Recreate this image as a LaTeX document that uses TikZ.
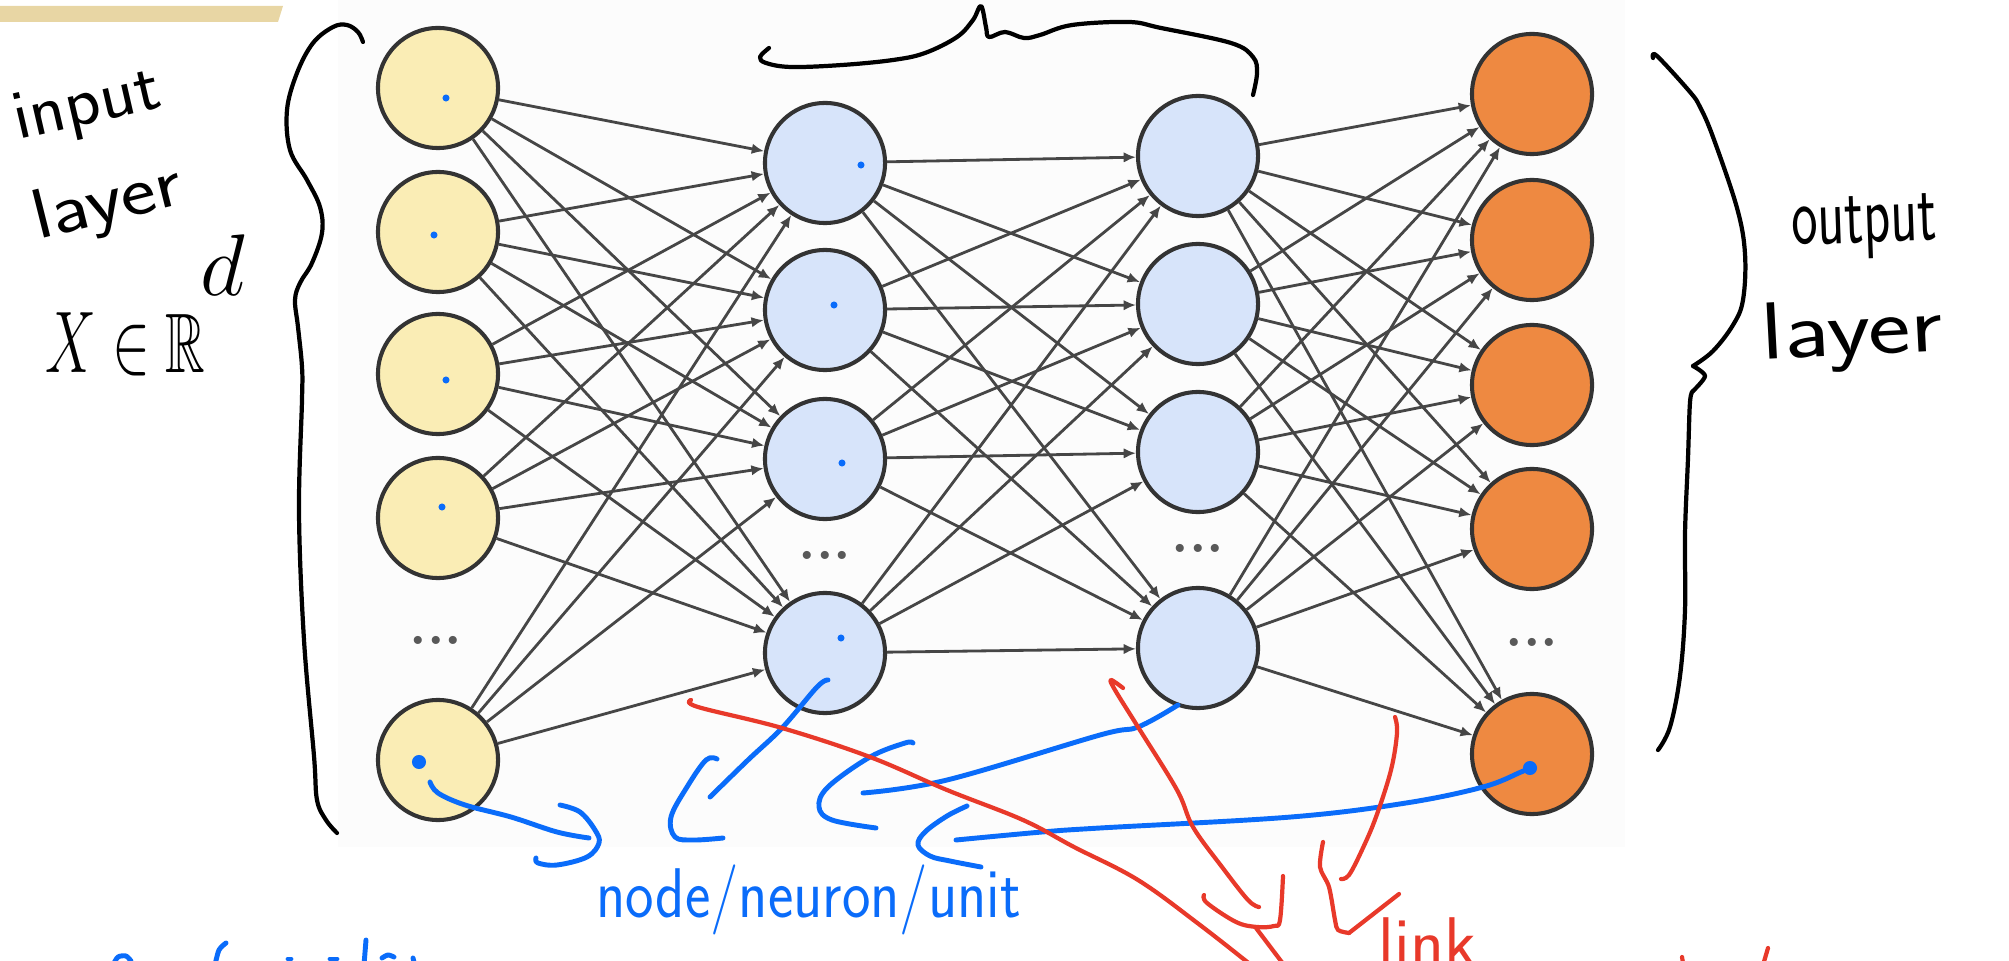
\documentclass[tikz,border=0pt]{standalone}
\usepackage{fontspec}
\usepackage{amssymb}
\usepackage{graphicx}
\usetikzlibrary{arrows.meta}

\definecolor{inyel}{HTML}{FAEDB5}
\definecolor{hidblue}{HTML}{D7E4FA}
\definecolor{outorange}{HTML}{EE8941}
\definecolor{penblue}{HTML}{0A6CFA}
\definecolor{penred}{HTML}{E8392A}
\definecolor{tanbar}{HTML}{E8D6A4}
\definecolor{edgegray}{HTML}{464646}
\definecolor{sheet}{HTML}{FCFCFC}

\begin{document}
\begin{tikzpicture}[x=0.01cm,y=-0.01cm,
  neuron/.style={circle, draw=black!80, line width=1.15pt, minimum size=1.2cm, inner sep=0pt},
  inneuron/.style={neuron, fill=inyel},
  hidneuron/.style={neuron, fill=hidblue},
  outneuron/.style={neuron, fill=outorange},
  edge/.style={draw=edgegray, line width=0.8pt, -{Latex[length=3.5pt,width=3pt]}},
  dotsnode/.style={text=black!65, font=\fontsize{16}{16}\selectfont\bfseries, inner sep=0pt},
  pen/.style={line width=1.2pt, line cap=round, line join=round},
  blackpen/.style={pen, draw=black},
  bluepen/.style={pen, draw=penblue, line width=1.4pt},
  redpen/.style={pen, draw=penred},
  penmark/.style={fill=penblue, circle, inner sep=0pt, minimum size=2pt},
  hand/.style={inner sep=0pt, font=\sffamily\fontsize{20}{22}\selectfont},
]
\useasboundingbox (0,0) rectangle (2009,961);
\clip (0,0) rectangle (2009,961);

% pasted sheet behind the network and the title bar
\fill[sheet] (338,0) rectangle (1625,847);
\fill[tanbar] (0,6) -- (283,6) -- (278,22) -- (0,22) -- cycle;

% ---- network nodes ----
\foreach \y [count=\k] in {88,232,374,518,760}
  \node[inneuron] (in\k) at (438,\y) {};
\foreach \y [count=\k] in {163,310,459,653}
  \node[hidneuron] (ha\k) at (825,\y) {};
\foreach \y [count=\k] in {156,304,452,648}
  \node[hidneuron] (hb\k) at (1198,\y) {};
\foreach \y [count=\k] in {94,240,385,529,754}
  \node[outneuron] (out\k) at (1532,\y) {};

\node[dotsnode] (dotsin)  at (436,640) {...};
\node[dotsnode] (dotsha)  at (825,555) {...};
\node[dotsnode] (dotshb)  at (1198,548) {...};
\node[dotsnode] (dotsout) at (1532,642) {...};

% ---- fully connected links ----
\foreach \i in {1,...,5}
  \foreach \j in {1,...,4}
    \draw[edge] (in\i) -- (ha\j);
\foreach \i in {1,...,4}
  \foreach \j in {1,...,4}
    \draw[edge] (ha\i) -- (hb\j);
\foreach \i in {1,...,4}
  \foreach \j in {1,...,5}
    \draw[edge] (hb\i) -- (out\j);

% ---- black pen: braces and layer names ----
\draw[blackpen] plot[smooth, tension=0.6] coordinates {(363,42) (358,32) (347,25) (333,27) (313,43) (297,73) (287,110) (290,150) (307,180) (320,207) (322,233) (312,263) (300,283) (295,300) (298,327) (302,367) (302,400) (299,512) (304,640) (314,756) (317,800) (326,820) (337,833)};

\draw[blackpen] plot[smooth, tension=0.6] coordinates {(769,48) (760,57) (766,63) (791,67) (842,65) (893,60) (925,53) (957,37) (973,20) (981,6) (986,27) (989,37) (1005,32) (1024,38) (1040,35) (1072,25) (1129,22) (1161,28) (1231,43) (1253,57) (1257,73) (1253,95)};

\draw[blackpen] plot[smooth, tension=0.6] coordinates {(1653,58) (1657,56) (1690,92) (1700,107) (1713,137) (1737,208) (1745,254) (1743,300) (1733,325) (1713,351) (1693,366)};
\draw[blackpen] plot[smooth, tension=0.5] coordinates {(1693,366) (1705,376) (1693,391)};
\draw[blackpen] plot[smooth, tension=0.6] coordinates {(1693,391) (1690,402) (1688,458) (1685,534) (1685,610) (1680,676) (1670,727) (1658,750)};

\node[hand, anchor=base west, rotate=13] (tinput) at (18,140) {\scalebox{1.05}[1]{input}};
\node[hand, anchor=base west, rotate=14] (tlayerin) at (38,240) {\scalebox{1.2}[1]{layer}};
\node[inner sep=0pt, anchor=base west, font=\fontsize{24}{26}\selectfont] (txr) at (45,373) {\scalebox{0.65}[1]{$X \in \mathbb{R}$}};
\node[inner sep=0pt, anchor=base west, font=\fontsize{40}{42}\selectfont] (texp) at (200,296) {$d$};

\node[hand, anchor=base west, rotate=2, font=\sffamily\fontsize{24}{26}\selectfont] (toutput) at (1792,245) {\scalebox{0.66}[1]{output}};
\node[hand, anchor=base west, rotate=3, font=\sffamily\fontsize{23}{25}\selectfont] (tlayerout) at (1762,360) {\scalebox{1.25}[1]{layer}};

% ---- blue pen: pointers to the units ----
\foreach \p in {(446,98),(434,235),(446,380),(442,507),(861,165),(834,305),(842,463),(841,638)}
  \node[penmark] at \p {};
\node[penmark, minimum size=4pt] (startin) at (419,762) {};
\node[penmark, minimum size=4pt] (startout) at (1530,768) {};

\draw[bluepen] plot[smooth, tension=0.6] coordinates {(430,782) (438,793) (465,805) (511,817) (557,832) (589,838)};
\draw[bluepen] plot[smooth, tension=0.6] coordinates {(560,805) (580,812) (595,830) (599,843) (587,857) (557,865) (538,863) (536,858)};
\draw[bluepen] plot[smooth, tension=0.6] coordinates {(828,680) (817,687) (782,728) (748,760) (710,797)};
\draw[bluepen] plot[smooth, tension=0.6] coordinates {(717,759) (706,760) (687,787) (671,817) (675,837) (694,840) (723,838)};
\draw[bluepen] plot[smooth, tension=0.6] coordinates {(1178,705) (1138,727) (1100,735) (947,780) (863,793)};
\draw[bluepen] plot[smooth, tension=0.6] coordinates {(913,743) (905,743) (870,757) (828,787) (819,807) (832,820) (876,828)};
\draw[bluepen] plot[smooth, tension=0.6] coordinates {(1530,768) (1521,772) (1483,787) (1406,803) (1291,817) (1100,828) (1042,832) (956,840)};
\draw[bluepen] plot[smooth, tension=0.6] coordinates {(967,806) (947,816) (925,832) (918,845) (930,856) (950,861) (981,867)};

\node[hand, anchor=base west, text=penblue] (tunit) at (596,917) {\scalebox{0.86}[1]{node/neuron/unit}};

% lower left blue writing, mostly below the edge
\draw[bluepen] plot[smooth] coordinates {(113,965) (118,957) (126,956) (131,961)};
\draw[bluepen] plot[smooth] coordinates {(226,943) (219,950) (215,965)};
\draw[bluepen] (288,959) -- (291,959);
\draw[bluepen] (330,959) -- (337,959);
\draw[bluepen] (366,940) -- (364,965);
\draw[bluepen] plot[smooth] coordinates {(382,958) (388,955) (394,957)};
\draw[bluepen] (413,958) -- (414,962);

% ---- red pen: pointers to the links ----
\draw[redpen] plot[smooth, tension=0.6] coordinates {(691,700) (698,707) (782,728) (870,757) (947,790) (1023,820) (1074,847) (1138,880) (1200,925) (1251,965)};
\draw[redpen] plot[smooth, tension=0.6] coordinates {(1123,688) (1111,680) (1115,690) (1138,727) (1177,790) (1193,827) (1222,867) (1248,900) (1259,907)};
\draw[redpen] plot[smooth, tension=0.6] coordinates {(1283,876) (1280,920) (1274,926) (1257,927) (1236,922) (1207,903) (1204,895)};
\draw[redpen] (1256,928) -- (1284,965);
\draw[redpen] plot[smooth, tension=0.6] coordinates {(1395,717) (1397,733) (1391,770) (1376,817) (1362,850) (1349,875) (1341,879)};
\draw[redpen] plot[smooth, tension=0.5] coordinates {(1323,842) (1320,867) (1329,887) (1335,920) (1338,930) (1349,933)};
\draw[redpen] (1349,933) -- (1399,894);

\node[hand, anchor=base west, text=penred] (tlink) at (1378,966) {link};

% lower right red writing, mostly below the edge
\draw[redpen] (1682,957) -- (1683,963);
\draw[redpen] (1768,948) -- (1763,965);
\end{tikzpicture}
\end{document}
